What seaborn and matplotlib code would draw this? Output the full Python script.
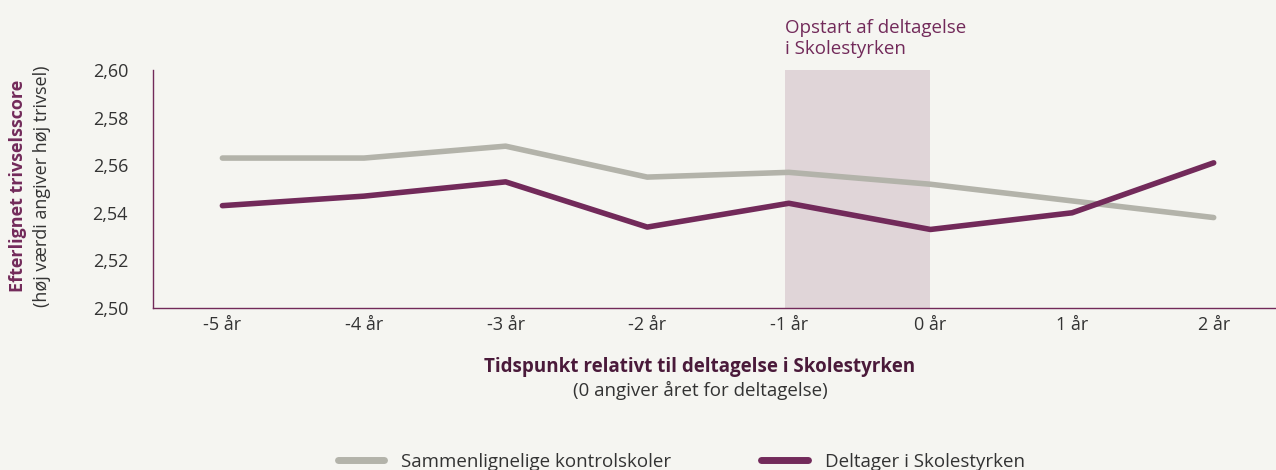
import matplotlib
matplotlib.use("Agg")
import matplotlib.pyplot as plt
import pandas as pd
import seaborn as sns

# data
years = [-5, -4, -3, -2, -1, 0, 1, 2]
tick_labels = ["-5 år", "-4 år", "-3 år", "-2 år", "-1 år", "0 år", "1 år", "2 år"]
kontrol = [2.563, 2.563, 2.568, 2.555, 2.557, 2.552, 2.545, 2.538]
deltager = [2.543, 2.547, 2.553, 2.534, 2.544, 2.533, 2.540, 2.561]
series_names = ["Sammenlignelige kontrolskoler", "Deltager i Skolestyrken"]

# colours
bg = "#f5f5f1"
purple = "#722a5a"
gray_line = "#b3b3aa"
shade = "#e0d5d8"
text_dark = "#333333"

df = pd.DataFrame({
    "year": years * 2,
    "score": kontrol + deltager,
    "serie": [series_names[0]] * len(years) + [series_names[1]] * len(years),
})

sns.set_style("white")
plt.rcParams["font.family"] = ["Open Sans", "DejaVu Sans"]
fs = 13

fig = plt.figure(figsize=(12.76, 4.70), dpi=100, facecolor=bg)
ax = fig.add_axes([153 / 1276, 1 - 308 / 470, 1 - 153 / 1276, 238 / 470])
ax.set_facecolor(bg)

# shaded participation window
ax.axvspan(-1.03, 0, ymin=0, ymax=1, color=shade, zorder=0, lw=0)

sns.lineplot(data=df, x="year", y="score", hue="serie",
             palette=[gray_line, purple], linewidth=4, ax=ax,
             legend=False, zorder=3)

ax.set_xlim(-5.49, 2.44)
ax.set_ylim(2.50, 2.60)
ax.set_xticks(years)
ax.set_xticklabels(tick_labels)
yt = [2.50, 2.52, 2.54, 2.56, 2.58, 2.60]
ax.set_yticks(yt)
ax.set_yticklabels([f"{v:.2f}".replace(".", ",") for v in yt])
ax.tick_params(axis="both", length=0, labelsize=fs, colors=text_dark, pad=6)
ax.tick_params(axis="y", pad=18)

for s in ["top", "right"]:
    ax.spines[s].set_visible(False)
for s in ["left", "bottom"]:
    ax.spines[s].set_color(purple)
    ax.spines[s].set_linewidth(1)

ax.set_xlabel("")
ax.set_ylabel("")

# annotation above the shaded band
ax.text(-1.03, 1.05, "Opstart af deltagelse\ni Skolestyrken", transform=ax.get_xaxis_transform(),
        ha="left", va="bottom", fontsize=13.5, color=purple, linespacing=1.25)

# y axis titles
fig.text(18 / 1276, 1 - 186 / 470, "Efterlignet trivselsscore", rotation=90,
         ha="center", va="center", fontsize=fs, fontweight="bold", color=purple)
fig.text(42 / 1276, 1 - 186 / 470, "(høj værdi angiver høj trivsel)", rotation=90,
         ha="center", va="center", fontsize=fs, color=text_dark)

# x axis titles
fig.text(700 / 1276, 1 - 367 / 470, "Tidspunkt relativt til deltagelse i Skolestyrken",
         ha="center", va="center", fontsize=13.5, fontweight="bold", color="#4a1a3a")
fig.text(700 / 1276, 1 - 390 / 470, "(0 angiver året for deltagelse)",
         ha="center", va="center", fontsize=13.5, color=text_dark)

# legend
handles = [plt.Line2D([], [], color=gray_line, lw=5, solid_capstyle="round"),
           plt.Line2D([], [], color=purple, lw=5, solid_capstyle="round")]
fig.legend(handles, series_names, loc="center", bbox_to_anchor=(0.534, 1 - 462 / 470),
           ncol=2, frameon=False, fontsize=13.5, handlelength=2.5, handletextpad=0.9,
           columnspacing=4.8, labelcolor=text_dark)

fig.savefig("out.png", dpi=100, facecolor=bg)
